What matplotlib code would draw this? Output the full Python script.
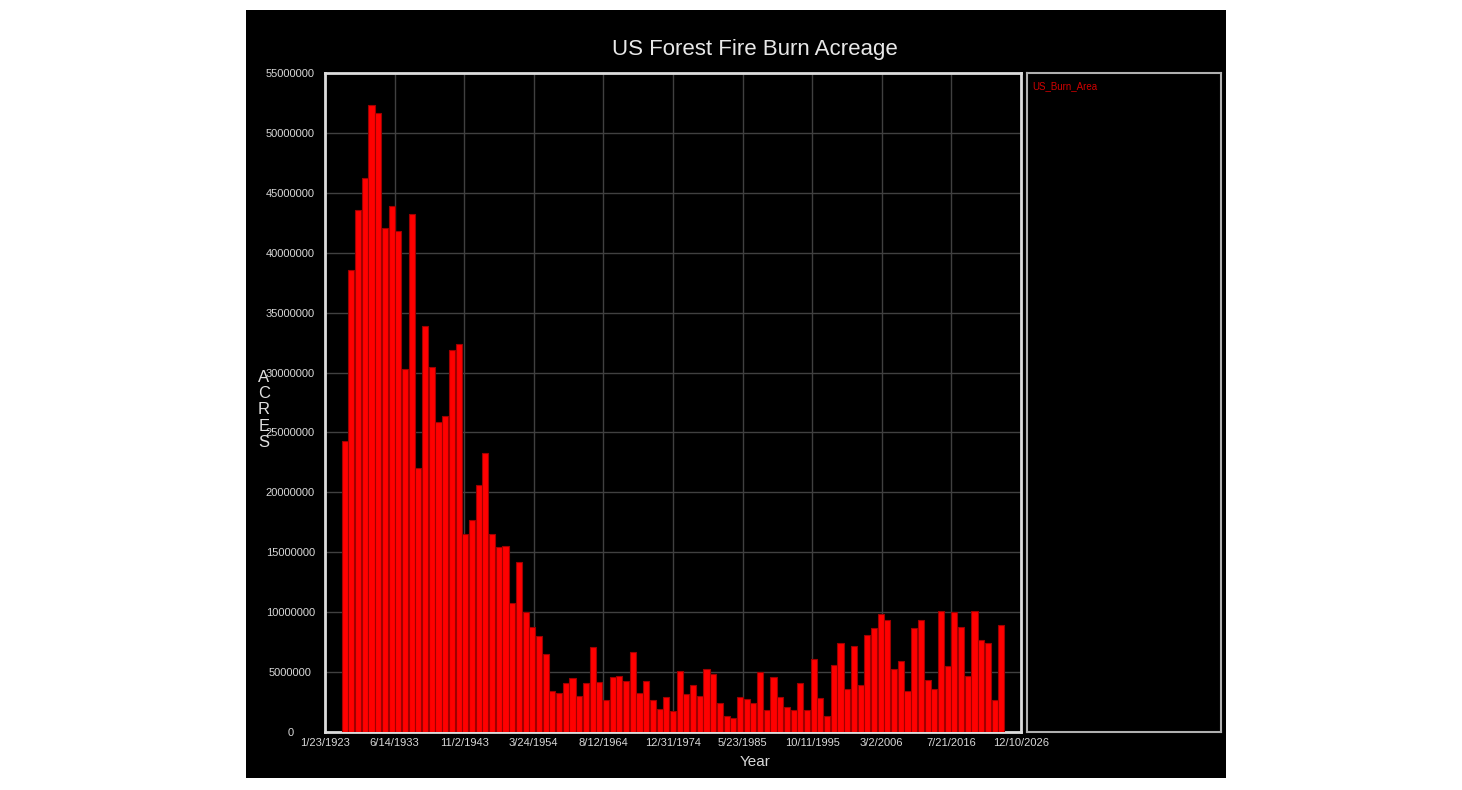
import pandas as pd
import matplotlib
matplotlib.use("Agg")
import matplotlib.pyplot as plt
from matplotlib.patches import Rectangle

plt.rcParams['font.family'] = ['Liberation Sans', 'DejaVu Sans']

# dados (acres queimados por ano)
years = list(range(1926, 2025))
acres_millions = [
    24.3, 38.6, 43.55, 46.25,                                       # 1926-1929
    52.3, 51.65, 42.1, 43.9, 41.85, 30.3, 43.25, 22.0, 33.85, 30.5,  # 1930s
    25.85, 26.4, 31.9, 32.35, 16.55, 17.7, 20.65, 23.25, 16.5, 15.45,  # 1940s
    15.55, 10.8, 14.2, 10.05, 8.8, 8.05, 6.55, 3.4, 3.25, 4.1,       # 1950s
    4.48, 3.04, 4.08, 7.12, 4.20, 2.65, 4.57, 4.66, 4.23, 6.69,      # 1960s
    3.28, 4.28, 2.64, 1.92, 2.88, 1.79, 5.11, 3.15, 3.91, 2.99,      # 1970s
    5.26, 4.81, 2.38, 1.32, 1.15, 2.90, 2.72, 2.45, 5.01, 1.83,      # 1980s
    4.62, 2.95, 2.07, 1.80, 4.07, 1.84, 6.07, 2.86, 1.33, 5.63,      # 1990s
    7.39, 3.57, 7.18, 3.96, 8.10, 8.69, 9.87, 9.33, 5.29, 5.92,      # 2000s
    3.42, 8.71, 9.33, 4.32, 3.60, 10.13, 5.51, 10.03, 8.77, 4.66,    # 2010s
    10.12, 7.66, 7.45, 2.69, 8.92,                                   # 2020s
]
acres = [v * 1e6 for v in acres_millions]
series_name = "US_Burn_Area"

tick_dates = ['1923-01-23', '1933-06-14', '1943-11-02', '1954-03-24', '1964-08-12',
              '1974-12-31', '1985-05-23', '1995-10-11', '2006-03-02', '2016-07-21',
              '2026-12-10']
y_ticks = list(range(0, 55000001, 5000000))

W, H = 1462, 790
fig = plt.figure(figsize=(W / 100, H / 100), dpi=100, facecolor='white')

# fundo preto
fig.add_artist(Rectangle((246 / W, 1 - 778 / H), 980 / W, 768 / H,
                         transform=fig.transFigure, facecolor='black',
                         edgecolor='none', zorder=0))

ax = fig.add_axes([325 / W, 1 - 732 / H, 696 / W, 659 / H])
ax.set_facecolor('black')

bar_dates = pd.to_datetime([f"{y}-01-01" for y in years])
ax.bar(bar_dates, acres, width=335, color='#ff0000', edgecolor='#a00000',
       linewidth=0.8, zorder=3)

tick_pos = pd.to_datetime(tick_dates)
ax.set_xlim(tick_pos[0], tick_pos[-1])
ax.set_ylim(0, 55000000)
ax.set_xticks(tick_pos)
ax.set_xticklabels([f"{d.month}/{d.day}/{d.year}" for d in tick_pos])
ax.set_yticks(y_ticks)
ax.set_yticklabels([str(v) for v in y_ticks])
for lbl in ax.get_yticklabels():
    lbl.set_horizontalalignment('center')

ax.tick_params(axis='both', length=0, colors='#d8d8d8', labelsize=8)
ax.tick_params(axis='y', pad=25)
ax.tick_params(axis='x', pad=4)
ax.grid(True, color='#404040', linewidth=1, zorder=0)
for s in ax.spines.values():
    s.set_color('#dcdcdc')
    s.set_linewidth(2)

fig.text(755 / W, 1 - 49 / H, "US Forest Fire Burn Acreage", color='#e8e8e8',
         fontsize=16, ha='center', va='center')
fig.text(755 / W, 1 - 762 / H, "Year", color='#d8d8d8', fontsize=11,
         ha='center', va='center')
fig.text(264 / W, 1 - 410 / H, "\n".join("ACRES"), color='#e0e0e0', fontsize=12,
         ha='center', va='center', linespacing=1.1)

# caixa da legenda
lax = fig.add_axes([1027 / W, 1 - 732 / H, 194 / W, 659 / H])
lax.set_facecolor('black')
lax.set_xticks([])
lax.set_yticks([])
for s in lax.spines.values():
    s.set_color('#b0b0b0')
    s.set_linewidth(1.5)
lax.text(5 / 194, 1 - 13 / 659, series_name, color='#d00000', fontsize=7,
         transform=lax.transAxes, ha='left', va='center')

fig.savefig("out.png", dpi=100, facecolor='white')
